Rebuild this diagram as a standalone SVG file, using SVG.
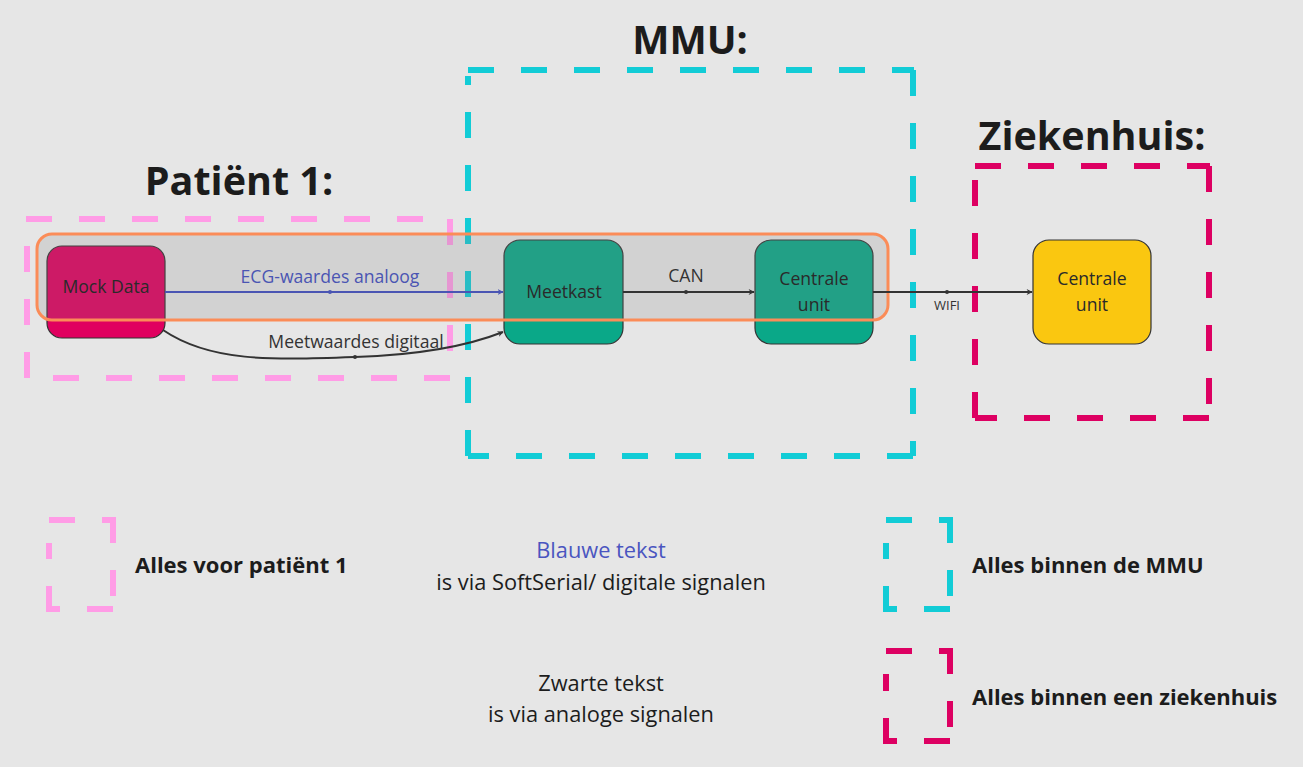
<svg xmlns="http://www.w3.org/2000/svg" width="1303" height="767" viewBox="0 0 1303 767">
<defs>
<style>
text{font-family:"Open Sans","Noto Sans","DejaVu Sans",sans-serif;}
.title{font-size:39.5px;font-weight:bold;fill:#1c1c1c;text-anchor:middle;}
.leg{font-size:22px;font-weight:bold;fill:#1c1c1c;}
.mid{font-size:21.8px;fill:#1c1c1c;text-anchor:middle;}
.node{font-size:17.6px;fill:#2a2a2a;text-anchor:middle;}
.lbl{font-size:17.6px;fill:#333;text-anchor:middle;}
.dash{fill:none;stroke-width:6;stroke-dasharray:26 27;}
.pink{stroke:#ff9ce6;}
.cyan{stroke:#12ccd6;}
.mag{stroke:#dd0062;}
.box{stroke:#333;stroke-width:1.2;}
.conn{fill:none;stroke:#333;stroke-width:2;}
</style>
<marker id="ah" viewBox="0 0 10 10" refX="9" refY="5" markerWidth="6" markerHeight="6" orient="auto" markerUnits="userSpaceOnUse" overflow="visible">
<path d="M0,0 L10,5 L0,10 L3,5 Z" fill="#333"/>
</marker>
<marker id="ahb" viewBox="0 0 10 10" refX="9" refY="5" markerWidth="6" markerHeight="6" orient="auto" markerUnits="userSpaceOnUse">
<path d="M0,0 L10,5 L0,10 L3,5 Z" fill="#4a55b3"/>
</marker>
</defs>
<rect width="1303" height="767" fill="#e6e6e6"/>

<g id="group-patient">
<path class="dash pink" d="M26,219 H450"/>
<path class="dash pink" d="M450,219 V378"/>
<path class="dash pink" d="M450,378 H27"/>
<path class="dash pink" d="M27,378 V219"/>
<text class="title" x="239" y="195">Patiënt 1:</text>
</g>

<g id="group-mmu">
<path class="dash cyan" d="M468,70 H914"/>
<path class="dash cyan" d="M913,70 V456"/>
<path class="dash cyan" d="M913,456 H468"/>
<path class="dash cyan" d="M468,456 V76"/>
<text class="title" x="690" y="54">MMU:</text>
</g>

<g id="group-ziekenhuis">
<path class="dash mag" d="M975,166 H1210"/>
<path class="dash mag" d="M1209,166 V418"/>
<path class="dash mag" d="M1209,418 H975"/>
<path class="dash mag" d="M975,418 V166"/>
<text class="title" x="1092" y="150">Ziekenhuis:</text>
</g>

<g id="node-mock-data">
<rect x="47" y="246" width="118" height="92" rx="15" fill="#e0005f" class="box"/>
</g>
<g id="node-meetkast">
<rect x="504" y="240" width="119" height="104" rx="16" fill="#0aa888" class="box"/>
</g>
<g id="node-centrale-mmu">
<rect x="755" y="240" width="118" height="104" rx="16" fill="#0aa888" class="box"/>
</g>
<g id="node-centrale-ziekenhuis">
<rect x="1033" y="240" width="118" height="104" rx="16" fill="#fac710" class="box"/>
<text class="node" x="1092" y="285">Centrale</text>
<text class="node" x="1092" y="311">unit</text>
</g>

<g id="highlight">
<rect x="37" y="234" width="851" height="86" rx="15" fill="#808080" fill-opacity="0.2" stroke="#fb8c58" stroke-width="3"/>
</g>

<g id="node-labels">
<text class="node" x="106" y="293">Mock Data</text>
<text class="node" x="564" y="298">Meetkast</text>
<text class="node" x="814" y="285">Centrale</text>
<text class="node" x="814" y="311">unit</text>
</g>

<g id="connectors">
<path d="M165,292 H503" fill="none" stroke="#4a55b3" stroke-width="2" marker-end="url(#ahb)"/>
<circle cx="330" cy="292" r="2" fill="#4a55b3"/>
<text x="330" y="283" style="font-size:17.6px;fill:#4a55b3;text-anchor:middle;">ECG-waardes analoog</text>

<path class="conn" d="M163,330 C210,362 270,360 355,357 C420,355 470,345 503,332" marker-end="url(#ah)"/>
<circle cx="355" cy="357" r="2" fill="#333"/>
<text class="lbl" x="356" y="348">Meetwaardes digitaal</text>

<path class="conn" d="M623,292 H754" marker-end="url(#ah)"/>
<circle cx="686" cy="292" r="2" fill="#333"/>
<text class="lbl" x="686" y="282">CAN</text>

<path class="conn" d="M873,292 H1032" marker-end="url(#ah)"/>
<circle cx="947" cy="292" r="2" fill="#333"/>
<text x="947" y="310" style="font-size:13px;fill:#333;text-anchor:middle;">WIFI</text>
</g>

<g id="legend">
<path class="dash pink" d="M49,520 H115"/>
<path class="dash pink" d="M113,517 V612"/>
<path class="dash pink" d="M113,609 H49"/>
<path class="dash pink" d="M49,612 V543"/>
<text class="leg" x="135" y="573">Alles voor patiënt 1</text>

<path class="dash cyan" d="M886,520 H952"/>
<path class="dash cyan" d="M950,517 V612"/>
<path class="dash cyan" d="M950,609 H886"/>
<path class="dash cyan" d="M886,612 V543"/>
<text class="leg" x="972" y="573">Alles binnen de MMU</text>

<path class="dash mag" d="M886,651 H952"/>
<path class="dash mag" d="M950,648 V744"/>
<path class="dash mag" d="M950,741 H886"/>
<path class="dash mag" d="M886,744 V674"/>
<text class="leg" x="972" y="705">Alles binnen een ziekenhuis</text>

<text class="mid" x="601" y="558" style="fill:#4a55c0;">Blauwe tekst</text>
<text class="mid" x="601" y="590">is via SoftSerial/ digitale signalen</text>
<text class="mid" x="601" y="691">Zwarte tekst</text>
<text class="mid" x="601" y="722">is via analoge signalen</text>
</g>
</svg>
